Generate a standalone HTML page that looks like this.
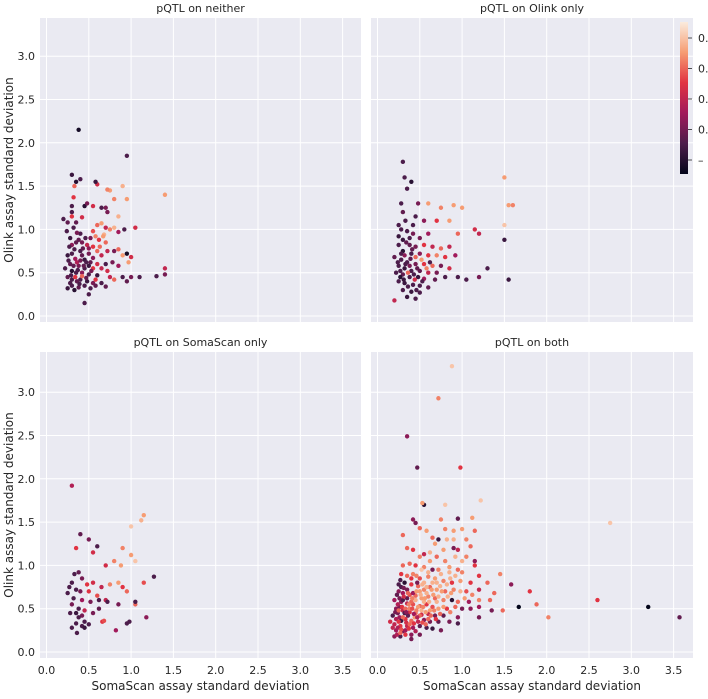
<!DOCTYPE html>
<html><head><meta charset="utf-8"><style>
body{margin:0;background:#fff;font-family:"DejaVu Sans","Liberation Sans",sans-serif;}
svg text{font-family:"DejaVu Sans","Liberation Sans",sans-serif;fill:#262626;}
</style></head><body>
<svg id="chart" width="708" height="695" xmlns="http://www.w3.org/2000/svg"></svg>
<script>
const xTicks=[0,0.5,1,1.5,2,2.5,3,3.5];
const yTicks=[0,0.5,1,1.5,2,2.5,3];
const panelTitles=["pQTL on neither","pQTL on Olink only","pQTL on SomaScan only","pQTL on both"];
const neitherPts=[[0.38,2.15,0.05],[0.95,1.85,0.2],[0.3,1.63,0.15],[0.35,1.55,0.1],[0.4,1.58,0.2],[0.33,1.5,0.7],[0.6,1.52,0.55],[0.58,1.55,0.15],[0.75,1.45,0.8],[0.72,1.46,0.75],[0.9,1.5,0.85],[0.8,1.35,0.75],[0.95,1.35,0.8],[1.4,1.4,0.8],[0.32,1.37,0.6],[0.3,1.27,0.2],[0.45,1.27,0.1],[0.48,1.3,0.3],[0.55,1.27,0.55],[0.65,1.25,0.2],[0.7,1.25,0.3],[0.72,1.2,0.3],[0.85,1.15,0.85],[0.3,1.2,0.2],[0.3,1.15,0.6],[0.42,1.14,0.55],[0.2,1.12,0.2],[0.25,1.08,0.25],[0.35,1.08,0.25],[0.32,1.02,0.2],[0.6,1.05,0.7],[0.65,1.07,0.8],[0.7,1.02,0.5],[0.75,1.0,0.75],[0.8,1.02,0.85],[0.92,1.0,0.2],[1.05,1.02,0.55],[0.85,0.97,0.4],[0.55,0.98,0.65],[0.58,0.92,0.75],[0.68,0.94,0.85],[0.62,0.88,0.6],[0.52,0.9,0.3],[0.7,0.85,0.7],[0.4,0.95,0.2],[0.28,0.9,0.15],[0.35,0.85,0.25],[0.3,0.82,0.35],[0.42,0.85,0.3],[0.48,0.82,0.5],[0.55,0.8,0.6],[0.6,0.75,0.7],[0.72,0.75,0.5],[0.8,0.75,0.3],[0.85,0.77,0.7],[0.9,0.7,0.8],[0.95,0.72,0.05],[1.0,0.68,0.55],[0.97,0.62,0.8],[0.65,0.7,0.5],[0.5,0.72,0.3],[0.4,0.75,0.2],[0.3,0.72,0.2],[0.25,0.7,0.15],[0.34,0.66,0.4],[0.45,0.65,0.15],[0.52,0.62,0.25],[0.6,0.6,0.55],[0.7,0.6,0.2],[0.78,0.62,0.3],[0.85,0.58,0.4],[0.28,0.6,0.25],[0.38,0.58,0.3],[0.45,0.55,0.2],[0.55,0.55,0.6],[0.65,0.55,0.5],[0.72,0.52,0.55],[0.22,0.55,0.2],[0.3,0.52,0.1],[0.35,0.5,0.2],[0.42,0.5,0.35],[0.5,0.48,0.2],[0.6,0.47,0.15],[0.75,0.45,0.5],[0.8,0.42,0.7],[0.9,0.45,0.2],[1.0,0.45,0.3],[1.1,0.45,0.2],[1.3,0.46,0.2],[1.4,0.55,0.5],[1.4,0.48,0.3],[0.95,0.4,0.25],[0.25,0.45,0.25],[0.3,0.42,0.2],[0.4,0.42,0.2],[0.48,0.4,0.15],[0.55,0.38,0.3],[0.65,0.38,0.2],[0.7,0.34,0.25],[0.3,0.35,0.2],[0.38,0.33,0.25],[0.45,0.35,0.2],[0.25,0.32,0.15],[0.33,0.3,0.1],[0.5,0.25,0.2],[0.45,0.15,0.2],[0.36,0.62,0.45],[0.42,0.7,0.25],[0.5,0.58,0.15],[0.34,0.45,0.6],[0.42,0.46,0.7],[0.58,0.42,0.6],[0.27,0.8,0.2],[0.47,0.62,0.2],[0.26,0.64,0.2],[0.32,0.58,0.25],[0.37,0.53,0.2],[0.44,0.58,0.25],[0.33,0.77,0.2],[0.38,0.88,0.25],[0.46,0.9,0.2],[0.36,0.4,0.25],[0.29,0.47,0.2],[0.4,0.64,0.3],[0.53,0.52,0.3],[0.47,0.44,0.25],[0.39,0.37,0.2],[0.55,0.67,0.35],[0.63,0.8,0.7],[0.67,0.92,0.8],[0.5,0.78,0.35],[0.24,0.98,0.2],[0.36,0.96,0.3],[0.43,0.78,0.25],[0.58,0.35,0.25],[0.28,0.38,0.2],[0.52,0.32,0.2]];
const oOnlyPts=[[0.3,1.78,0.2],[0.32,1.6,0.2],[0.4,1.55,0.1],[0.35,1.47,0.2],[1.5,1.6,0.8],[1.55,1.28,0.8],[1.6,1.28,0.75],[1.5,1.05,0.9],[1.5,0.88,0.15],[0.9,1.28,0.8],[1.0,1.25,0.8],[0.75,1.25,0.75],[0.6,1.3,0.8],[0.48,1.3,0.3],[0.28,1.3,0.2],[0.3,1.2,0.25],[0.45,1.15,0.2],[0.55,1.1,0.35],[0.7,1.1,0.6],[0.85,1.1,0.8],[1.15,1.0,0.55],[1.2,0.95,0.5],[0.95,0.95,0.7],[0.6,0.95,0.4],[0.25,1.05,0.2],[0.35,0.98,0.2],[0.42,0.95,0.3],[0.5,0.9,0.3],[0.3,0.88,0.15],[0.25,0.82,0.2],[0.38,0.82,0.25],[0.45,0.8,0.3],[0.55,0.82,0.6],[0.65,0.8,0.5],[0.75,0.78,0.7],[0.85,0.8,0.5],[0.3,0.75,0.1],[0.4,0.72,0.2],[0.5,0.72,0.35],[0.6,0.7,0.6],[0.7,0.7,0.75],[0.8,0.68,0.6],[0.92,0.7,0.4],[0.2,0.68,0.25],[0.28,0.65,0.2],[0.35,0.62,0.2],[0.45,0.6,0.3],[0.55,0.6,0.6],[0.65,0.58,0.7],[0.75,0.58,0.3],[0.85,0.55,0.55],[0.25,0.58,0.2],[0.32,0.55,0.15],[0.4,0.52,0.2],[0.5,0.52,0.25],[0.6,0.5,0.5],[0.7,0.5,0.3],[0.22,0.5,0.2],[0.3,0.48,0.25],[0.38,0.45,0.2],[0.48,0.45,0.15],[0.55,0.43,0.4],[0.68,0.42,0.25],[0.8,0.45,0.2],[0.95,0.45,0.2],[1.05,0.42,0.2],[1.2,0.45,0.3],[1.3,0.55,0.2],[1.55,0.42,0.15],[0.25,0.4,0.2],[0.32,0.38,0.15],[0.42,0.36,0.2],[0.5,0.35,0.2],[0.6,0.33,0.25],[0.3,0.3,0.2],[0.4,0.28,0.15],[0.5,0.27,0.2],[0.35,0.22,0.15],[0.2,0.18,0.5],[0.45,0.2,0.2],[0.28,1.0,0.2],[0.42,1.05,0.2],[0.32,0.7,0.35],[0.45,0.68,0.7],[0.52,0.65,0.8],[0.38,0.58,0.3],[0.62,0.62,0.2],[0.25,0.92,0.15],[0.58,0.55,0.75],[0.27,0.45,0.1],[0.36,0.5,0.7],[0.44,0.42,0.55],[0.27,0.52,0.2],[0.33,0.6,0.2],[0.39,0.66,0.25],[0.43,0.48,0.2],[0.36,0.34,0.2],[0.28,0.72,0.2],[0.34,0.85,0.25],[0.47,0.55,0.25],[0.53,0.4,0.2],[0.24,0.62,0.2],[0.41,0.77,0.25],[0.31,0.42,0.15],[0.46,0.3,0.2],[0.38,0.9,0.2],[0.33,1.1,0.2]];
const sOnlyPts=[[0.3,1.92,0.45],[0.4,1.36,0.25],[0.5,1.3,0.3],[1.15,1.58,0.8],[1.12,1.52,0.85],[1.0,1.45,0.9],[0.9,1.2,0.75],[0.35,1.2,0.6],[0.55,1.15,0.55],[0.6,1.22,0.2],[0.7,1.0,0.55],[0.8,1.05,0.75],[0.88,1.0,0.8],[1.0,1.12,0.8],[1.05,1.05,0.9],[1.27,0.87,0.2],[1.15,0.8,0.65],[0.33,0.9,0.2],[0.3,0.8,0.2],[0.42,0.85,0.3],[0.48,0.78,0.6],[0.55,0.8,0.55],[0.65,0.75,0.5],[0.75,0.78,0.75],[0.85,0.8,0.8],[0.9,0.75,0.6],[0.95,0.7,0.7],[0.35,0.72,0.2],[0.4,0.7,0.3],[0.5,0.7,0.6],[0.6,0.65,0.65],[0.7,0.6,0.5],[0.25,0.68,0.2],[0.32,0.62,0.2],[0.42,0.6,0.4],[0.52,0.58,0.3],[0.62,0.6,0.2],[0.72,0.58,0.2],[0.85,0.55,0.3],[1.05,0.55,0.7],[1.05,0.58,0.2],[0.3,0.55,0.3],[0.38,0.5,0.2],[0.45,0.48,0.5],[0.55,0.45,0.3],[0.62,0.5,0.25],[0.35,0.45,0.15],[0.42,0.42,0.3],[0.28,0.45,0.2],[0.38,0.4,0.2],[0.45,0.35,0.2],[0.35,0.33,0.2],[0.42,0.3,0.2],[0.3,0.28,0.2],[0.36,0.22,0.2],[0.5,0.32,0.2],[0.66,0.35,0.6],[0.68,0.36,0.65],[0.95,0.33,0.2],[0.98,0.35,0.2],[0.82,0.25,0.4],[1.18,0.4,0.35],[0.45,0.28,0.15],[0.27,0.75,0.2],[0.38,0.92,0.25]];
const bothPts=[[0.88,3.3,0.9],[0.72,2.93,0.75],[0.35,2.49,0.35],[0.47,2.13,0.25],[0.98,2.13,0.6],[0.55,1.7,0.1],[0.8,1.7,0.9],[1.22,1.75,0.9],[0.53,1.72,0.8],[0.95,1.54,0.25],[0.75,1.53,0.75],[1.12,1.55,0.8],[0.42,1.53,0.35],[0.45,1.49,0.3],[2.75,1.49,0.9],[0.5,1.43,0.7],[0.3,1.35,0.7],[0.58,1.4,0.8],[0.65,1.32,0.7],[0.72,1.3,0.15],[0.8,1.42,0.75],[0.9,1.4,0.8],[1.0,1.42,0.8],[1.15,1.4,0.7],[0.68,1.25,0.8],[0.9,1.2,0.3],[0.95,1.18,0.5],[1.1,1.22,0.7],[0.35,1.2,0.7],[0.42,1.18,0.6],[0.5,1.1,0.75],[0.55,1.13,0.5],[0.62,1.05,0.8],[0.7,1.1,0.7],[0.8,1.05,0.75],[1.05,1.1,0.75],[1.15,1.05,0.35],[1.15,1.0,0.6],[0.3,1.0,0.7],[0.38,1.02,0.7],[0.45,1.0,0.6],[0.55,0.98,0.75],[0.65,0.95,0.3],[0.72,0.95,0.75],[0.85,0.98,0.8],[0.95,0.95,0.7],[1.0,0.92,0.75],[1.2,0.88,0.6],[1.45,0.9,0.75],[0.28,0.9,0.6],[0.35,0.88,0.7],[0.42,0.9,0.75],[0.5,0.85,0.65],[0.6,0.87,0.75],[0.68,0.85,0.8],[0.78,0.82,0.75],[0.88,0.8,0.6],[0.98,0.82,0.8],[1.1,0.8,0.6],[1.3,0.8,0.7],[1.58,0.78,0.35],[0.25,0.78,0.2],[0.32,0.8,0.1],[0.4,0.78,0.6],[0.48,0.76,0.7],[0.55,0.72,0.75],[0.62,0.75,0.7],[0.7,0.72,0.8],[0.8,0.7,0.7],[0.9,0.72,0.75],[1.05,0.7,0.65],[1.2,0.72,0.5],[1.38,0.68,0.7],[1.8,0.7,0.6],[0.25,0.7,0.35],[0.3,0.68,0.4],[0.38,0.66,0.65],[0.45,0.65,0.7],[0.52,0.62,0.8],[0.6,0.64,0.75],[0.68,0.62,0.7],[0.78,0.6,0.75],[0.88,0.6,0.1],[0.95,0.58,0.7],[1.08,0.58,0.4],[1.2,0.6,0.75],[1.33,0.6,0.7],[1.88,0.55,0.7],[2.6,0.6,0.6],[0.2,0.6,0.4],[0.28,0.58,0.35],[0.35,0.56,0.5],[0.42,0.55,0.65],[0.5,0.53,0.7],[0.58,0.55,0.6],[0.65,0.52,0.65],[0.72,0.5,0.8],[0.82,0.5,0.6],[0.92,0.52,0.7],[1.0,0.5,0.3],[1.1,0.5,0.35],[1.2,0.52,0.4],[1.35,0.48,0.3],[1.48,0.48,0.7],[1.67,0.52,0.0],[3.2,0.52,0.0],[0.22,0.5,0.35],[0.3,0.48,0.5],[0.38,0.46,0.6],[0.45,0.45,0.7],[0.52,0.43,0.55],[0.6,0.44,0.5],[0.68,0.42,0.3],[0.78,0.42,0.25],[0.95,0.4,0.35],[1.2,0.4,0.3],[2.02,0.4,0.75],[3.57,0.4,0.25],[0.18,0.42,0.2],[0.26,0.4,0.4],[0.33,0.38,0.6],[0.4,0.36,0.7],[0.48,0.35,0.5],[0.55,0.37,0.35],[0.62,0.35,0.3],[0.72,0.35,0.25],[0.85,0.35,0.3],[0.95,0.33,0.2],[0.15,0.35,0.55],[0.2,0.32,0.5],[0.27,0.3,0.6],[0.35,0.3,0.5],[0.42,0.28,0.4],[0.5,0.3,0.25],[0.58,0.28,0.2],[0.65,0.27,0.15],[0.75,0.25,0.3],[0.22,0.25,0.4],[0.3,0.24,0.3],[0.4,0.2,0.35],[0.4,0.15,0.3],[0.2,0.18,0.35],[0.27,0.18,0.2],[0.33,0.2,0.6],[0.3,0.6,0.2],[0.26,0.52,0.3],[0.35,0.62,0.25],[0.42,0.68,0.4],[0.5,0.7,0.8],[0.55,0.58,0.85],[0.62,0.48,0.8],[0.7,0.58,0.85],[0.48,0.52,0.8],[0.38,0.5,0.75],[0.45,0.6,0.85],[0.58,0.68,0.85],[0.65,0.8,0.85],[0.75,0.9,0.85],[0.85,0.92,0.85],[0.52,0.95,0.9],[0.62,1.15,0.85],[0.78,1.18,0.8],[0.32,0.45,0.2],[0.28,0.36,0.15],[0.24,0.45,0.3],[0.36,0.42,0.25],[0.44,0.4,0.8],[0.52,0.48,0.85],[0.35,0.72,0.3],[0.28,0.75,0.2],[0.4,0.58,0.7],[0.47,0.8,0.3],[0.55,0.8,0.85],[0.6,0.92,0.85],[0.82,1.3,0.85],[0.9,1.3,0.85],[1.05,1.3,0.75],[1.0,1.05,0.85],[0.92,1.1,0.85],[0.24,0.55,0.45],[0.29,0.52,0.6],[0.33,0.5,0.7],[0.37,0.55,0.75],[0.41,0.5,0.65],[0.46,0.48,0.75],[0.5,0.42,0.7],[0.54,0.52,0.75],[0.57,0.46,0.8],[0.63,0.42,0.7],[0.67,0.48,0.75],[0.74,0.44,0.7],[0.22,0.38,0.45],[0.25,0.35,0.6],[0.3,0.4,0.7],[0.34,0.34,0.55],[0.38,0.32,0.7],[0.43,0.33,0.6],[0.47,0.4,0.45],[0.53,0.34,0.65],[0.6,0.38,0.7],[0.24,0.28,0.45],[0.28,0.26,0.65],[0.33,0.25,0.4],[0.37,0.27,0.6],[0.45,0.24,0.45],[0.5,0.2,0.3],[0.18,0.28,0.5],[0.23,0.2,0.45],[0.27,0.22,0.7],[0.31,0.64,0.55],[0.36,0.68,0.7],[0.41,0.62,0.75],[0.46,0.7,0.8],[0.51,0.66,0.85],[0.56,0.62,0.8],[0.61,0.58,0.85],[0.66,0.66,0.8],[0.72,0.64,0.85],[0.76,0.7,0.8],[0.83,0.64,0.85],[0.87,0.68,0.8],[0.26,0.62,0.3],[0.23,0.66,0.25],[0.27,0.83,0.2],[0.31,0.74,0.3],[0.4,0.85,0.6],[0.46,0.88,0.75],[0.53,0.78,0.85],[0.58,0.75,0.85],[0.64,0.72,0.8],[0.7,0.8,0.85],[0.74,0.76,0.85],[0.82,0.78,0.85],[0.86,0.85,0.85],[0.92,0.88,0.85],[1.03,0.62,0.8],[1.12,0.66,0.75],[0.98,0.7,0.85],[0.78,0.52,0.8],[0.86,0.46,0.75],[0.69,0.38,0.6],[0.57,0.32,0.7],[0.34,0.46,0.35],[0.43,0.44,0.4],[0.21,0.46,0.3],[0.25,0.48,0.7]];
const cbTicks=["0.","0.","0.","0.","\u2013"];

const svg=document.getElementById('chart');
const NS='http://www.w3.org/2000/svg';
function mk(tag,attrs,parent){const e=document.createElementNS(NS,tag);for(const k in attrs)e.setAttribute(k,attrs[k]);(parent||svg).appendChild(e);return e;}
const stops=[[0,[3,5,26]],[0.2,[76,29,75]],[0.4,[161,26,91]],[0.6,[225,51,66]],[0.8,[246,156,115]],[1,[250,235,221]]];
function cmap(v){v=Math.max(0,Math.min(1,v));for(let i=1;i<stops.length;i++){if(v<=stops[i][0]){const a=stops[i-1],b=stops[i],t=(v-a[0])/(b[0]-a[0]);return 'rgb('+a[1].map((c,j)=>Math.round(c+(b[1][j]-c)*t)).join(',')+')';}}return 'rgb(250,235,221)';}

const panels=[
 {x0:40,x1:361,y0:18,y1:322,data:neitherPts,showY:true,showX:false},
 {x0:371,x1:693,y0:18,y1:322,data:oOnlyPts,showY:false,showX:false},
 {x0:40,x1:361,y0:352,y1:658,data:sOnlyPts,showY:true,showX:true},
 {x0:371,x1:693,y0:352,y1:658,data:bothPts,showY:false,showX:true}];
panels.forEach((p,i)=>{
 const g=mk('g',{});
 
 
 const zx=p.x0+6.5, zy=p.y1-6;
 const sx=v=>zx+v*84.6, sy=v=>zy-v*86.6;
 const bg=mk('rect',{x:p.x0,y:p.y0,width:p.x1-p.x0,height:p.y1-p.y0,fill:'#eaeaf2'},g);
 
 
 xTicks.forEach(t=>{mk('line',{x1:sx(t),x2:sx(t),y1:p.y0,y2:p.y1,stroke:'#fff','stroke-width':1},g);
  if(p.showX){const tx=mk('text',{x:sx(t),y:p.y1+16,'text-anchor':'middle','font-size':'11'},g);tx.textContent=t.toFixed(1);
   
   }});
 yTicks.forEach(t=>{mk('line',{x1:p.x0,x2:p.x1,y1:sy(t),y2:sy(t),stroke:'#fff','stroke-width':1},g);
  if(p.showY){const ty=mk('text',{x:p.x0-5,y:sy(t)+4,'text-anchor':'end','font-size':'11'},g);ty.textContent=t.toFixed(1);
   
   }});
 p.data.forEach(d=>{const c=mk('circle',{cx:sx(d[0]),cy:sy(d[1]),r:2.2,fill:cmap(d[2])},g);
  
  });
 const tt=mk('text',{x:(p.x0+p.x1)/2,y:p.y0-6,'text-anchor':'middle','font-size':'11'},g);tt.textContent=panelTitles[i];
 
 
 if(p.showX){const xl=mk('text',{x:(p.x0+p.x1)/2,y:p.y1+32,'text-anchor':'middle','font-size':'12'},g);xl.textContent='SomaScan assay standard deviation';
  
  }
 if(p.showY){const cy=(p.y0+p.y1)/2;const yl=mk('text',{x:13,y:cy,'text-anchor':'middle','font-size':'12',transform:'rotate(-90 13 '+cy+')'},g);yl.textContent='Olink assay standard deviation';
  
  }
});
const defs=mk('defs',{});
const lg=mk('linearGradient',{id:'rocket',x1:0,y1:1,x2:0,y2:0},defs);
for(let i=0;i<=10;i++)mk('stop',{offset:i/10,'stop-color':cmap(i/10)},lg);
const cb=mk('rect',{x:680,y:22,width:8,height:152,fill:'url(#rocket)'});


cbTicks.forEach((t,i)=>{const y=38+i*30.5;mk('line',{x1:688,x2:692,y1:y,y2:y,stroke:'#262626','stroke-width':0.8});
 const tx=mk('text',{x:698,y:y+4,'font-size':'11'});tx.textContent=t;
 
 });
</script>
</body></html>
